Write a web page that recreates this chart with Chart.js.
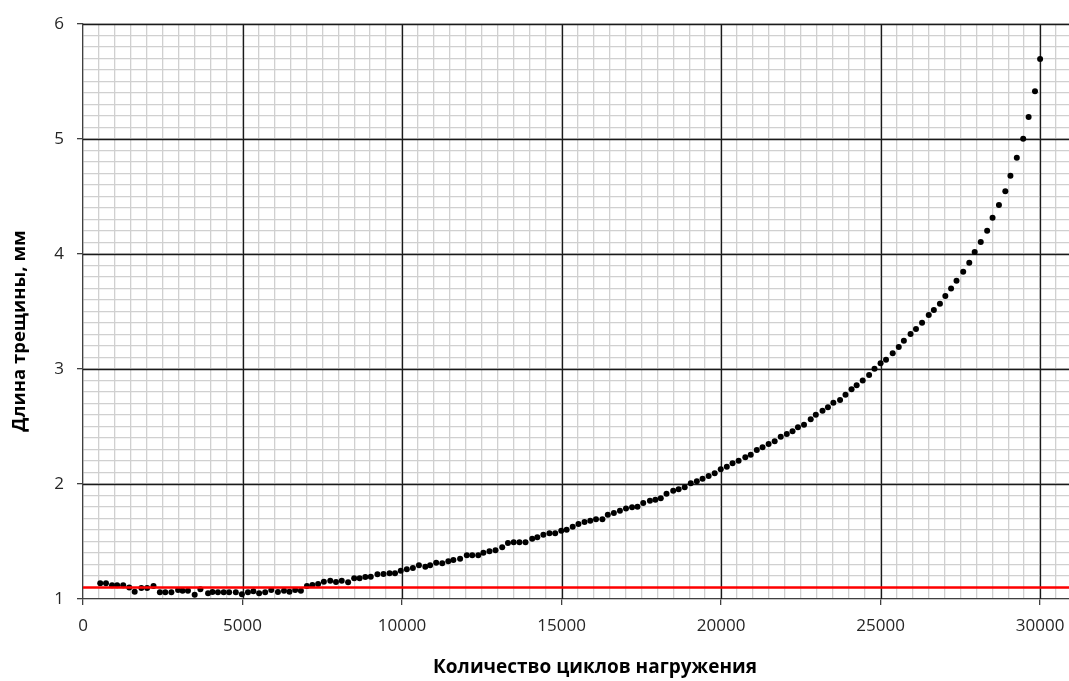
<!DOCTYPE html>
<html>
<head>
<meta charset="utf-8">
<title>Длина трещины</title>
<script src="https://cdn.jsdelivr.net/npm/chart.js@4.4.1/dist/chart.umd.min.js"></script>
<style>
html, body { margin: 0; padding: 0; background: #fff; overflow: hidden; }
#wrap { width: 1069px; height: 681px; overflow: hidden; }
#chart_crackGrowth { display: block; }
</style>
</head>
<body>
<div id="wrap"><canvas id="chart_crackGrowth" width="1083" height="681"></canvas></div>
<script>
// число циклов нагружения
var cycles = [
    540, 720, 910, 1070, 1260, 1450, 1620, 1830, 2010, 2210,
    2410, 2580, 2770, 2980, 3120, 3290, 3500, 3680, 3920, 4060,
    4230, 4410, 4580, 4790, 4980, 5170, 5340, 5520, 5710, 5900,
    6110, 6300, 6470, 6650, 6830, 7020, 7190, 7370, 7550, 7750,
    7930, 8110, 8310, 8500, 8670, 8850, 9020, 9230, 9420, 9610,
    9780, 9960, 10150, 10340, 10530, 10730, 10880, 11070, 11260, 11450,
    11610, 11820, 12030, 12200, 12390, 12550, 12740, 12930, 13140, 13320,
    13500, 13680, 13870, 14080, 14240, 14430, 14620, 14800, 14990, 15160,
    15350, 15530, 15720, 15900, 16080, 16280, 16450, 16640, 16830, 17020,
    17210, 17380, 17560, 17770, 17940, 18110, 18290, 18500, 18670, 18860,
    19050, 19240, 19420, 19610, 19800, 19990, 20180, 20360, 20550, 20760,
    20930, 21120, 21300, 21490, 21680, 21870, 22060, 22240, 22410, 22600,
    22810, 22970, 23180, 23350, 23520, 23730, 23900, 24090, 24250, 24440,
    24640, 24810, 25000, 25170, 25380, 25570, 25730, 25940, 26110, 26300,
    26510, 26670, 26860, 27030, 27210, 27380, 27590, 27780, 27950, 28140,
    28340, 28510, 28710, 28910, 29070, 29270, 29470, 29640, 29840, 30000
];

// длина трещины, мм
var crackLength = [
    1.137, 1.137, 1.119, 1.119, 1.119, 1.100, 1.064, 1.096, 1.096, 1.113,
    1.058, 1.058, 1.058, 1.078, 1.072, 1.072, 1.037, 1.084, 1.050, 1.061,
    1.058, 1.058, 1.058, 1.058, 1.041, 1.058, 1.067, 1.050, 1.058, 1.078,
    1.061, 1.072, 1.064, 1.078, 1.072, 1.113, 1.122, 1.130, 1.151, 1.159,
    1.148, 1.159, 1.145, 1.180, 1.180, 1.191, 1.194, 1.215, 1.217, 1.223,
    1.223, 1.246, 1.258, 1.270, 1.293, 1.281, 1.293, 1.316, 1.310, 1.328,
    1.339, 1.350, 1.380, 1.380, 1.380, 1.403, 1.415, 1.423, 1.450, 1.487,
    1.493, 1.493, 1.493, 1.524, 1.536, 1.559, 1.571, 1.571, 1.594, 1.603,
    1.629, 1.652, 1.670, 1.681, 1.693, 1.693, 1.733, 1.748, 1.768, 1.788,
    1.797, 1.803, 1.835, 1.855, 1.863, 1.876, 1.915, 1.942, 1.954, 1.971,
    2.006, 2.023, 2.046, 2.070, 2.093, 2.128, 2.150, 2.180, 2.203, 2.232,
    2.255, 2.296, 2.319, 2.348, 2.371, 2.411, 2.435, 2.458, 2.493, 2.516,
    2.563, 2.603, 2.638, 2.667, 2.707, 2.730, 2.776, 2.823, 2.858, 2.901,
    2.948, 3.003, 3.049, 3.081, 3.136, 3.191, 3.246, 3.304, 3.348, 3.403,
    3.470, 3.513, 3.568, 3.635, 3.701, 3.768, 3.846, 3.924, 4.017, 4.104,
    4.203, 4.316, 4.426, 4.545, 4.681, 4.838, 5.003, 5.191, 5.415, 5.696
];

// горизонтальная красная линия
var limitCycles = [0, 31000];
var limitLength = [1.1, 1.1];

var xTitle = 'Количество циклов нагружения';
var yTitle = 'Длина трещины, мм';

var xMin = 0, xMax = 31000, xMajor = 5000, xMinor = 500;
var yMin = 1, yMax = 6, yMajor = 1, yMinor = 0.1;

var majorColor = '#1a1a1a';
var minorColor = '#d0d0d0';

function isMajor(v, step) {
    var r = v / step;
    return Math.abs(r - Math.round(r)) < 1e-6;
}

var pointsData = cycles.map(function (c, i) { return { x: c, y: crackLength[i] }; });
var limitData = limitCycles.map(function (c, i) { return { x: c, y: limitLength[i] }; });

var tickFont = { family: '"Open Sans", sans-serif', size: 17 };

var chart_crackGrowth = new Chart(document.getElementById('chart_crackGrowth'), {
    type: 'scatter',
    data: {
        datasets: [
            {
                type: 'line',
                label: 'limit',
                data: limitData,
                borderColor: '#ff0000',
                borderWidth: 2.6,
                pointRadius: 0,
                fill: false
            },
            {
                label: 'crack',
                data: pointsData,
                backgroundColor: '#000000',
                borderWidth: 0,
                pointRadius: 3
            }
        ]
    },
    options: {
        animation: false,
        responsive: false,
        layout: {
            padding: { top: 24, right: 0, left: 0, bottom: 0 }
        },
        plugins: {
            legend: { display: false },
            tooltip: { enabled: false }
        },
        scales: {
            x: {
                type: 'linear',
                min: xMin,
                max: xMax,
                afterFit: function (s) { s.height = 82; },
                ticks: {
                    stepSize: xMinor,
                    autoSkip: false,
                    maxRotation: 0,
                    padding: 11,
                    color: '#262626',
                    font: tickFont,
                    callback: function (v) { return isMajor(v, xMajor) ? String(v) : ''; }
                },
                grid: {
                    color: minorColor,
                    tickColor: function (c) { return c.tick && isMajor(c.tick.value, xMajor) ? '#404040' : 'rgba(0,0,0,0)'; },
                    lineWidth: 1.3,
                    tickLength: 6
                },
                border: { color: '#404040', width: 1.3 }
            },
            y: {
                type: 'linear',
                min: yMin,
                max: yMax,
                afterFit: function (s) { s.width = 83; },
                ticks: {
                    stepSize: yMinor,
                    autoSkip: false,
                    padding: 13,
                    color: '#262626',
                    font: tickFont,
                    callback: function (v) { return isMajor(v, yMajor) ? String(Math.round(v)) : ''; }
                },
                grid: {
                    color: minorColor,
                    tickColor: function (c) { return c.tick && isMajor(c.tick.value, yMajor) ? '#404040' : 'rgba(0,0,0,0)'; },
                    lineWidth: 1.3,
                    tickLength: 6
                },
                border: { color: '#404040', width: 1.3 }
            }
        }
    },
    plugins: [{
        // основные линии сетки поверх вспомогательных
        id: 'majorGrid',
        beforeDatasetsDraw: function (chart) {
            var ctx = chart.ctx;
            var a = chart.chartArea;
            var sx = chart.scales.x, sy = chart.scales.y;
            ctx.save();
            ctx.strokeStyle = majorColor;
            ctx.lineWidth = 1.3;
            ctx.beginPath();
            sx.ticks.forEach(function (t) {
                if (t.value > xMin && isMajor(t.value, xMajor)) {
                    var px = Math.round(sx.getPixelForValue(t.value)) + 0.5;
                    ctx.moveTo(px, a.top);
                    ctx.lineTo(px, a.bottom);
                }
            });
            sy.ticks.forEach(function (t) {
                if (t.value > yMin && isMajor(t.value, yMajor)) {
                    var py = Math.round(sy.getPixelForValue(t.value)) + 0.5;
                    ctx.moveTo(a.left, py);
                    ctx.lineTo(a.right, py);
                }
            });
            ctx.stroke();
            ctx.restore();
        },
        afterDraw: function (chart) {
            var ctx = chart.ctx;
            ctx.save();
            ctx.fillStyle = '#000000';
            ctx.textAlign = 'center';
            ctx.textBaseline = 'middle';
            ctx.font = 'bold 19px "Open Sans", sans-serif';
            ctx.fillText(xTitle, 595, 668);
            ctx.font = 'bold 18.5px "Open Sans", sans-serif';
            ctx.translate(20, 331);
            ctx.rotate(-Math.PI / 2);
            ctx.fillText(yTitle, 0, 0);
            ctx.restore();
        }
    }]
});
</script>
</body>
</html>
